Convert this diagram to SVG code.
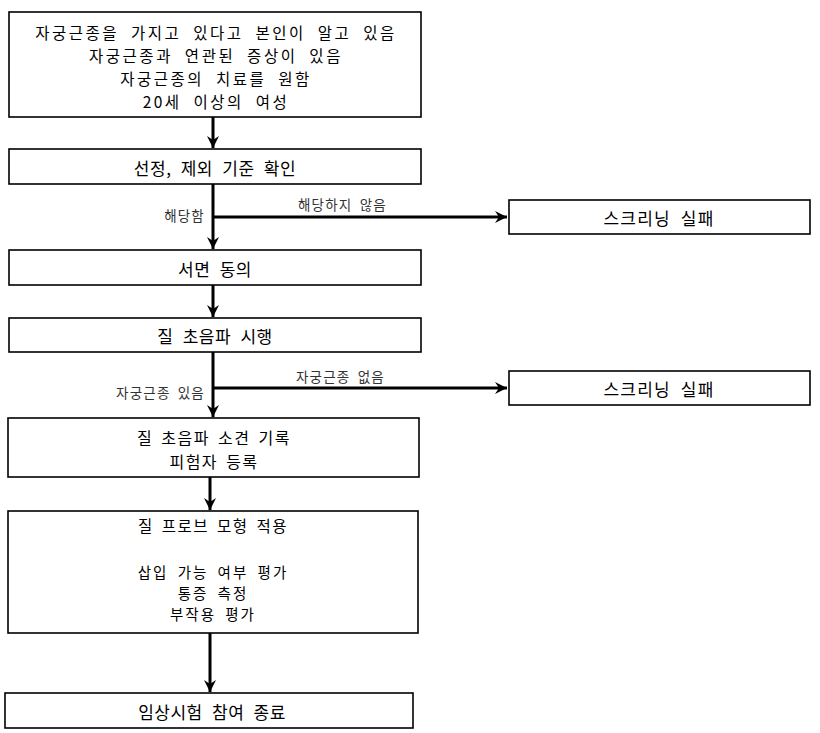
<svg xmlns="http://www.w3.org/2000/svg" width="820" height="733" viewBox="0 0 820 733">
<style>
.box{fill:#fff;stroke:#000;stroke-width:1.6}
.t{font-family:"Noto Sans CJK KR","Noto Sans",sans-serif;font-size:17px;fill:#000;text-anchor:middle;dominant-baseline:central;word-spacing:5px;letter-spacing:0.5px}
.t1{font-size:15.5px;letter-spacing:2.5px;word-spacing:6px}
.t5{font-size:16px;letter-spacing:1.5px;word-spacing:3px}
.t6{font-size:15.5px;letter-spacing:1.5px;word-spacing:3px}
.t6s{font-size:14.5px;letter-spacing:2px;word-spacing:4px}
.ts{font-size:17px;letter-spacing:1.2px;word-spacing:5px}
.lbl{font-family:"Noto Sans CJK KR","Noto Sans",sans-serif;font-size:13.5px;fill:#333;dominant-baseline:central;letter-spacing:1.2px;word-spacing:3px}
.c{stroke:#000;stroke-width:3;fill:none}
</style>
<defs>
<marker id="ah" markerUnits="userSpaceOnUse" markerWidth="14" markerHeight="14" refX="12" refY="7" orient="auto">
<path d="M0,1 L12,7 L0,13 L4,7 z" fill="#000"/>
</marker>
</defs>
<g id="n1"><rect class="box" x="9" y="12" width="412" height="105"/>
<text class="t t1" x="216" y="32">자궁근종을 가지고 있다고 본인이 알고 있음</text>
<text class="t t1" x="216" y="55">자궁근종과 연관된 증상이 있음</text>
<text class="t t1" x="216" y="78">자궁근종의 치료를 원함</text>
<text class="t t1" x="216" y="101">20세 이상의 여성</text></g>
<g id="n2"><rect class="box" x="9" y="149" width="412" height="35"/><text class="t" x="215" y="167">선정, 제외 기준 확인</text></g>
<g id="n3"><rect class="box" x="9" y="250" width="412" height="35"/><text class="t" x="215" y="268">서면 동의</text></g>
<g id="n4"><rect class="box" x="9" y="318" width="412" height="34"/><text class="t" x="215" y="335">질 초음파 시행</text></g>
<g id="n5"><rect class="box" x="8" y="418" width="411" height="59"/><text class="t t5" x="214" y="437">질 초음파 소견 기록</text><text class="t t5" x="214" y="461">피험자 등록</text></g>
<g id="n6"><rect class="box" x="8" y="511" width="410" height="122"/><text class="t t6" x="213" y="525">질 프로브 모형 적용</text><text class="t t6s" x="213" y="571">삽입 가능 여부 평가</text><text class="t t6s" x="213" y="592">통증 측정</text><text class="t t6s" x="213" y="613">부작용 평가</text></g>
<g id="n7"><rect class="box" x="5" y="693" width="408" height="35"/><text class="t" x="212" y="711">임상시험 참여 종료</text></g>
<g id="s1"><rect class="box" x="509" y="200" width="301" height="34"/><text class="t ts" x="659" y="217">스크리닝 실패</text></g>
<g id="s2"><rect class="box" x="509" y="371" width="301" height="34"/><text class="t ts" x="659" y="388">스크리닝 실패</text></g>
<g id="connectors">
<line class="c" x1="213" y1="117" x2="213" y2="148" marker-end="url(#ah)"/>
<line class="c" x1="213" y1="184" x2="213" y2="249" marker-end="url(#ah)"/>
<line class="c" x1="213" y1="217" x2="507" y2="217" marker-end="url(#ah)"/>
<line class="c" x1="213" y1="285" x2="213" y2="317" marker-end="url(#ah)"/>
<line class="c" x1="213" y1="352" x2="213" y2="417" marker-end="url(#ah)"/>
<line class="c" x1="213" y1="388" x2="507" y2="388" marker-end="url(#ah)"/>
<line class="c" x1="210" y1="477" x2="210" y2="510" marker-end="url(#ah)"/>
<line class="c" x1="210" y1="633" x2="210" y2="692" marker-end="url(#ah)"/>
<text class="lbl" x="205" y="215" text-anchor="end">해당함</text>
<text class="lbl" x="298" y="204">해당하지 않음</text>
<text class="lbl" x="205" y="392" text-anchor="end">자궁근종 있음</text>
<text class="lbl" x="296" y="376">자궁근종 없음</text>
</g>
</svg>
